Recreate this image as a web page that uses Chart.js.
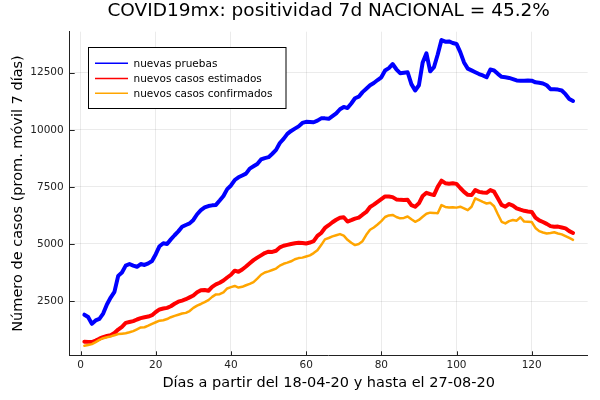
<!DOCTYPE html>
<html lang="es">
<head>
    <meta charset="UTF-8">
    <title>COVID19mx: positividad 7d NACIONAL</title>
    <script src="https://cdn.jsdelivr.net/npm/chart.js"></script>
    <style>
        html, body { margin: 0; padding: 0; background: #fff; }
        #wrap { width: 600px; height: 400px; }
    </style>
</head>
<body>
    <div id="wrap"><canvas id="covidChart" width="600" height="400"></canvas></div>

    <script>
        // promedio movil 7 dias, dia 1 = 18-04-20
        const nuevasPruebas = [
            1900, 1800, 1500, 1650, 1720, 1950, 2350, 2650, 2900, 3600,
            3750, 4050, 4120, 4050, 4000, 4120, 4080, 4150, 4250, 4550,
            4900, 5030, 5000, 5200, 5380, 5550, 5750, 5830, 5900, 6050,
            6300, 6480, 6600, 6660, 6690, 6710, 6900, 7100, 7400, 7560,
            7800, 7920, 8000, 8080, 8300, 8400, 8500, 8700, 8760, 8800,
            8950, 9120, 9420, 9600, 9820, 9950, 10050, 10150, 10300, 10350,
            10340, 10330, 10400, 10500, 10500, 10480, 10600, 10720, 10900, 11000,
            10950, 11150, 11380, 11450, 11650, 11800, 11950, 12050, 12180, 12300,
            12600, 12700, 12880, 12650, 12480, 12500, 12520, 12000, 11720, 11950,
            12950, 13350, 12560, 12740, 13300, 13930, 13860, 13870, 13800, 13760,
            13400, 12950, 12680, 12600, 12520, 12440, 12380, 12300, 12640, 12600,
            12450, 12320, 12300, 12270, 12220, 12160, 12150, 12150, 12160, 12150,
            12080, 12060, 12030, 11950, 11780, 11770, 11760, 11720, 11560, 11350,
            11260
        ];
        const casosEstimados = [
            720, 710, 705, 770, 850, 920, 965, 1000, 1100, 1250,
            1370, 1540, 1580, 1620, 1690, 1750, 1790, 1820, 1880, 2020,
            2130, 2170, 2200, 2270, 2380, 2470, 2520, 2580, 2660, 2740,
            2880, 2970, 2980, 2950, 3120, 3230, 3300, 3400, 3530, 3650,
            3830, 3780, 3880, 4010, 4150, 4290, 4400, 4500, 4600, 4660,
            4650, 4700, 4850, 4920, 4960, 5000, 5030, 5050, 5040, 5020,
            5060, 5120, 5350, 5480, 5700, 5820, 5950, 6060, 6150, 6170,
            5980, 6040, 6110, 6150, 6280, 6400, 6620, 6720, 6840, 6960,
            7080, 7080, 7050, 6950, 6930, 6920, 6930, 6700, 6630, 6780,
            7100, 7240, 7180, 7140, 7500, 7770, 7660, 7640, 7660, 7630,
            7450, 7280, 7150, 7140, 7360, 7280, 7250, 7240, 7360, 7290,
            7000, 6710, 6630, 6750, 6680, 6560, 6500, 6450, 6420, 6400,
            6150, 6030, 5960, 5880, 5780, 5750, 5760, 5720, 5680, 5560,
            5480
        ];
        const casosConfirmados = [
            540, 570, 610, 700, 800, 870, 910, 950, 1000, 1050,
            1070, 1090, 1130, 1180, 1260, 1340, 1350, 1420, 1500, 1570,
            1640, 1660, 1710, 1790, 1850, 1900, 1950, 1980, 2060, 2200,
            2300, 2370, 2450, 2540, 2680, 2790, 2800, 2880, 3050, 3110,
            3160, 3090, 3120, 3190, 3250, 3330, 3480, 3650, 3750, 3800,
            3860, 3920, 4050, 4130, 4180, 4240, 4330, 4380, 4400, 4450,
            4500, 4600, 4720, 4950, 5200, 5260, 5330, 5380, 5430, 5360,
            5180, 5050, 4950, 5000, 5120, 5400, 5620, 5720, 5850, 6000,
            6180, 6250, 6270, 6180, 6120, 6140, 6200, 6080, 5970, 6050,
            6190, 6320, 6370, 6360, 6340, 6700, 6620, 6600, 6610, 6590,
            6630, 6560, 6480, 6630, 7000, 6920, 6840, 6770, 6800, 6650,
            6300, 5970, 5900, 6000, 6050, 6020, 6170, 5980, 5970, 5960,
            5700, 5560, 5500, 5460, 5480, 5510, 5460, 5420, 5340, 5260,
            5180
        ];
        const xTicks = [0, 20, 40, 60, 80, 100, 120];
        const yTicks = [2500, 5000, 7500, 10000, 12500];
        const seriesNames = ['nuevas pruebas', 'nuevos casos estimados', 'nuevos casos confirmados'];
        const seriesColors = ['#0000ff', '#ff0000', '#ffa500'];

        const days = nuevasPruebas.map((v, i) => i + 1);
        const toPoints = arr => arr.map((v, i) => ({ x: days[i], y: v }));

        const FONT = "'DejaVu Sans', sans-serif";

        // leyenda dentro del area y marcas de eje hacia adentro (estilo GR)
        const extras = {
            id: 'extras',
            afterDraw(chart) {
                const ctx = chart.ctx;
                const area = chart.chartArea;
                const xs = chart.scales.x, ys = chart.scales.y;
                ctx.save();
                ctx.strokeStyle = '#222';
                ctx.lineWidth = 1;
                xTicks.forEach(t => {
                    const px = Math.round(xs.getPixelForValue(t)) + 0.5;
                    ctx.beginPath();
                    ctx.moveTo(px, area.bottom);
                    ctx.lineTo(px, area.bottom - 4);
                    ctx.stroke();
                });
                yTicks.forEach(t => {
                    const py = Math.round(ys.getPixelForValue(t)) + 0.5;
                    ctx.beginPath();
                    ctx.moveTo(area.left, py);
                    ctx.lineTo(area.left + 5, py);
                    ctx.stroke();
                });

                // caja de leyenda
                const bx = 88.5, by = 47.5, bw = 197.5, bh = 61;
                ctx.fillStyle = '#fff';
                ctx.fillRect(bx, by, bw, bh);
                ctx.strokeStyle = '#000';
                ctx.strokeRect(bx, by, bw, bh);
                ctx.font = '10.5px ' + FONT;
                ctx.textBaseline = 'middle';
                ctx.textAlign = 'left';
                const rows = [63.3, 78.5, 93.3];
                seriesNames.forEach((name, i) => {
                    ctx.strokeStyle = seriesColors[i];
                    ctx.lineWidth = 1.5;
                    ctx.beginPath();
                    ctx.moveTo(95, rows[i]);
                    ctx.lineTo(128, rows[i]);
                    ctx.stroke();
                    ctx.fillStyle = '#000';
                    ctx.fillText(name, 133.5, rows[i] + 0.5);
                });
                ctx.restore();
            }
        };

        new Chart(document.getElementById('covidChart'), {
            type: 'line',
            data: {
                datasets: [
                    { label: seriesNames[0], data: toPoints(nuevasPruebas), borderColor: seriesColors[0], borderWidth: 4, order: 2 },
                    { label: seriesNames[1], data: toPoints(casosEstimados), borderColor: seriesColors[1], borderWidth: 4, order: 1 },
                    { label: seriesNames[2], data: toPoints(casosConfirmados), borderColor: seriesColors[2], borderWidth: 2.5, order: 0 }
                ]
            },
            options: {
                responsive: false,
                animation: false,
                devicePixelRatio: 1,
                layout: { padding: { left: 0, right: 12.3, top: 0, bottom: 0 } },
                elements: {
                    point: { radius: 0 },
                    line: { tension: 0, borderJoinStyle: 'round', borderCapStyle: 'round' }
                },
                plugins: {
                    legend: { display: false },
                    tooltip: { enabled: false },
                    title: {
                        display: true,
                        fullSize: false,
                        text: 'COVID19mx: positividad 7d NACIONAL = 45.2%',
                        color: '#000',
                        font: { family: FONT, size: 18.5, weight: 'normal' },
                        padding: { top: 0, bottom: 9.5 }
                    }
                },
                scales: {
                    x: {
                        type: 'linear',
                        min: -2.9,
                        max: 134.9,
                        afterBuildTicks: s => { s.ticks = xTicks.map(v => ({ value: v })); },
                        afterFit: s => { s.height = 44.7; },
                        grid: { color: 'rgba(0,0,0,0.08)', drawTicks: false },
                        border: { display: true, color: '#222', width: 1 },
                        ticks: {
                            color: '#222',
                            padding: 4,
                            maxRotation: 0,
                            font: { family: FONT, size: 10.5 }
                        },
                        title: {
                            display: true,
                            text: 'Días a partir del 18-04-20 y hasta el 27-08-20',
                            color: '#000',
                            font: { family: FONT, size: 14.5 },
                            padding: { top: 0, bottom: 8 }
                        }
                    },
                    y: {
                        min: 122,
                        max: 14296,
                        afterBuildTicks: s => { s.ticks = yTicks.map(v => ({ value: v })); },
                        afterFit: s => { s.width = 69.7; },
                        grid: { color: 'rgba(0,0,0,0.08)', drawTicks: false },
                        border: { display: true, color: '#222', width: 1 },
                        ticks: {
                            color: '#222',
                            padding: 6,
                            callback: v => String(v),
                            font: { family: FONT, size: 10.5 }
                        },
                        title: {
                            display: true,
                            text: 'Número de casos (prom. móvil 7 días)',
                            color: '#000',
                            font: { family: FONT, size: 14.5 },
                            padding: { top: 10, bottom: 0 }
                        }
                    }
                }
            },
            plugins: [extras]
        });
    </script>
</body>
</html>
